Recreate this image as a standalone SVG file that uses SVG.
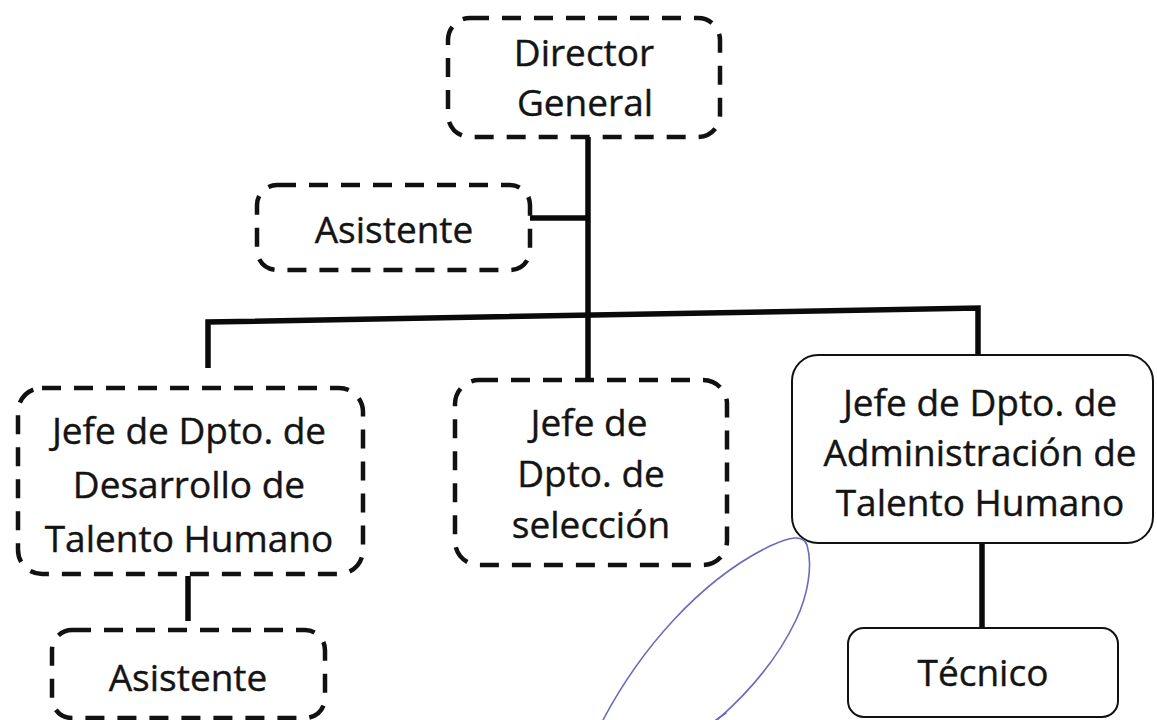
<svg xmlns="http://www.w3.org/2000/svg" width="1157" height="720" viewBox="0 0 1157 720">
  <style>
    .dash { fill: #ffffff; stroke: #111111; stroke-width: 4.5; stroke-dasharray: 19 13; }
    .solid { fill: #ffffff; stroke: #111111; stroke-width: 2; }
    .lbl { font-family: "Open Sans", "Noto Sans", sans-serif; font-size: 37px; fill: #141414; text-anchor: middle; stroke: #141414; stroke-width: 0.4; }
    .conn { stroke: #0a0a0a; stroke-width: 5.5; fill: none; stroke-linejoin: miter; }
    .pen { stroke: #6b6bbd; stroke-width: 1.6; fill: none; stroke-linecap: round; }
  </style>
  <rect width="1157" height="720" fill="#ffffff"/>

  <g id="connectors">
    <line class="conn" x1="588" y1="137" x2="588" y2="382"/>
    <line class="conn" x1="530" y1="218" x2="588" y2="218"/>
    <polyline class="conn" points="208,368 208,322 978,308 978,355"/>
    <line class="conn" x1="188" y1="576" x2="188" y2="621"/>
    <line class="conn" x1="982" y1="543" x2="982" y2="628"/>
  </g>

  <g id="director-general">
    <rect class="dash" x="448" y="18" width="272" height="119" rx="22"/>
    <text class="lbl" x="584" y="66">Director</text>
    <text class="lbl" x="585" y="116">General</text>
  </g>

  <g id="asistente-direccion">
    <rect class="dash" x="257" y="185" width="273" height="85" rx="20"/>
    <text class="lbl" x="394" y="243">Asistente</text>
  </g>

  <g id="jefe-desarrollo">
    <rect class="dash" x="18" y="388" width="345" height="186" rx="24"/>
    <text class="lbl" x="189" y="444">Jefe de Dpto. de</text>
    <text class="lbl" x="189" y="498">Desarrollo de</text>
    <text class="lbl" x="189" y="552">Talento Humano</text>
  </g>

  <g id="jefe-seleccion">
    <rect class="dash" x="455" y="380" width="272" height="185" rx="24"/>
    <text class="lbl" x="589" y="436">Jefe de</text>
    <text class="lbl" x="591" y="487">Dpto. de</text>
    <text class="lbl" x="591" y="538">selección</text>
  </g>

  <g id="jefe-administracion">
    <rect class="solid" x="792" y="355" width="361" height="188" rx="26"/>
    <text class="lbl" x="980" y="416">Jefe de Dpto. de</text>
    <text class="lbl" x="980" y="466">Administración de</text>
    <text class="lbl" x="980" y="516">Talento Humano</text>
  </g>

  <g id="asistente-desarrollo">
    <rect class="dash" x="52" y="630" width="273" height="88" rx="20"/>
    <text class="lbl" x="188" y="691">Asistente</text>
  </g>

  <g id="tecnico">
    <rect class="solid" x="848" y="628" width="270" height="89" rx="16"/>
    <text class="lbl" x="983" y="686">Técnico</text>
  </g>

  <path class="pen" d="M603,720 C640,650 700,580 770,546 C790,537 803,534 807,545 C813,565 808,595 796,620 C777,660 748,693 717,720"/>
  <path class="pen" d="M716,720 L726,713" stroke-width="2.5"/>
</svg>
